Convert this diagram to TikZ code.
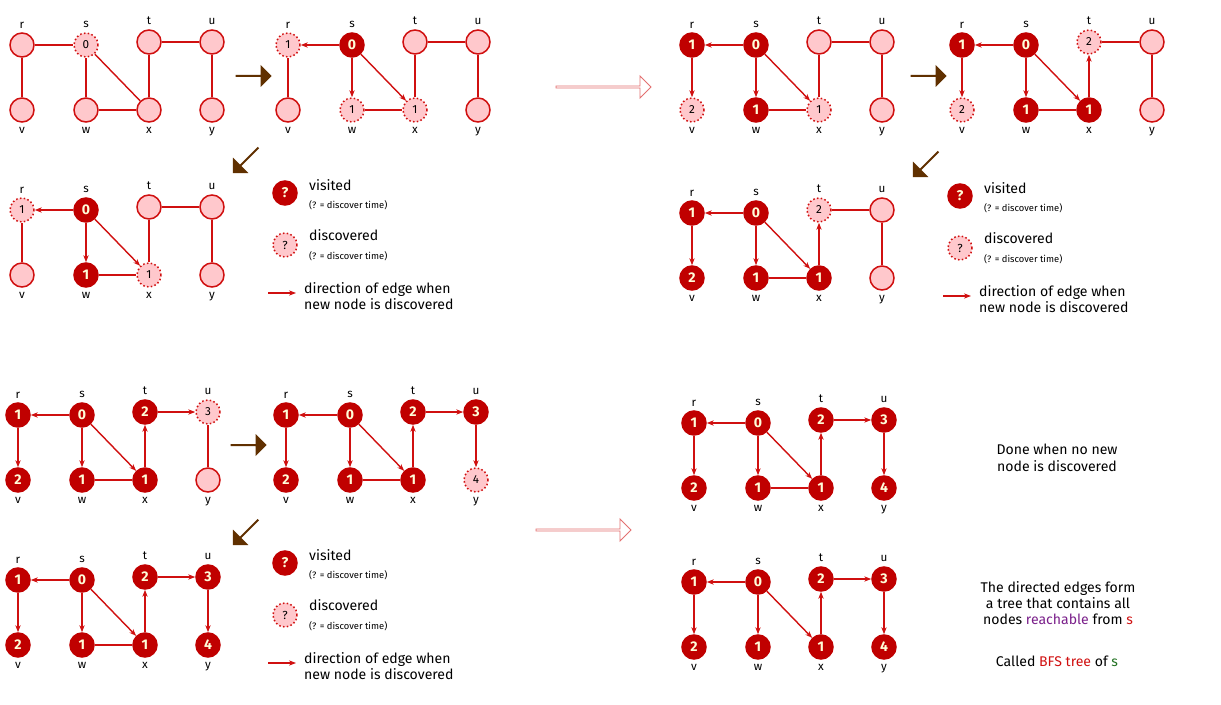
\documentclass[tikz,border=0pt]{standalone}
\usepackage{fontspec}
\setmainfont{Fira Sans}
\usetikzlibrary{shapes.arrows,arrows.meta}
\definecolor{rd}{HTML}{D01010}
\definecolor{dk}{HTML}{C00000}
\definecolor{pk}{HTML}{FFC8CC}
\definecolor{br}{HTML}{603000}
\definecolor{pu}{HTML}{7A1F8A}
\definecolor{gr}{HTML}{207020}
\tikzset{
 base/.style={circle,minimum size=24*0.03cm,inner sep=0pt,font=\normalsize,label distance=-1pt},
 un/.style={base,draw=rd,fill=pk,line width=1.3pt,node contents={}},
 di/.style={base,draw=rd,fill=pk,line width=1.3pt,dotted,node contents={#1}},
 vi/.style={base,draw=dk,fill=dk,text=yellow!15,line width=1.3pt,font=\large\bfseries,node contents={#1}},
 pl/.style={draw=rd,line width=1.2pt},
 fw/.style={pl,-{Stealth[length=6pt]}},
 bw/.style={pl,{Stealth[length=6pt]}-},
 no/.style={draw=none},
 blk/.style={single arrow,fill=br,minimum height=36*0.03cm,minimum width=22*0.03cm,single arrow head extend=2pt,inner sep=0pt},
 pka/.style={single arrow,draw=rd!60,fill=white,line width=0.8pt,minimum height=95*0.03cm,minimum width=22*0.03cm,single arrow head extend=4pt,inner sep=0pt},
 txt/.style={font=\large,align=left,anchor=west},
 sm/.style={font=\footnotesize,anchor=west}
}
\newcommand\G[9]{%
 \node (#1r) [at={(22,45)},label={above:r},#2];
 \node (#1s) [at={(86,45)},label={above:s},#3];
 \node (#1t) [at={(149,42)},label={above:t},#4];
 \node (#1u) [at={(212,42)},label={above:u},#5];
 \node (#1v) [at={(22,110)},label={below:v},#6];
 \node (#1w) [at={(86,110)},label={below:w},#7];
 \node (#1x) [at={(149,110)},label={below:x},#8];
 \node (#1y) [at={(212,110)},label={below:y},#9];}
\newcommand\E[9]{%
 \draw[#2] (#1r)--(#1s); \draw[#3] (#1r)--(#1v); \draw[#4] (#1s)--(#1w);
 \draw[#5] (#1s)--(#1x); \draw[#6] (#1w)--(#1x); \draw[#7] (#1t)--(#1x);
 \draw[#8] (#1t)--(#1u); \draw[#9] (#1u)--(#1y);}
\newcommand\Leg[3]{%
 \begin{scope}[shift={(#1,#2)}]
 \node (#3L1) [at={(285,193)},vi=?];
 \node[txt] (#3T1) at (305,185) {visited};
 \node[sm] (#3S1) at (305,205) {(? = discover time)};
 \node (#3L2) [at={(285,245)},di=?];
 \node[txt] (#3T2) at (305,235) {discovered};
 \node[sm] (#3S2) at (305,256) {(? = discover time)};
 \coordinate (#3A1) at (268,293); \coordinate (#3A2) at (296,293);
 \draw[fw] (#3A1)--(#3A2);
 \node[txt,align=left] (#3T3) at (300,296) {direction of edge when\\new node is discovered};
 \end{scope}}
\begin{document}
\begin{tikzpicture}[x=0.03cm,y=-0.03cm]
\useasboundingbox (0,0) rectangle (1221,705);
\begin{scope}[shift={(0,0)}]
\G{A}{un}{di=0}{un}{un}{un}{un}{un}{un}\E{A}{pl}{pl}{pl}{pl}{pl}{pl}{pl}{pl}\end{scope}
\begin{scope}[shift={(266,0)}]
\G{B}{di=1}{vi=0}{un}{un}{un}{di=1}{di=1}{un}\E{B}{bw}{pl}{fw}{fw}{pl}{pl}{pl}{pl}\end{scope}
\begin{scope}[shift={(0,165)}]
\G{C}{di=1}{vi=0}{un}{un}{un}{vi=1}{di=1}{un}\E{C}{bw}{pl}{fw}{fw}{pl}{pl}{pl}{pl}\end{scope}
\begin{scope}[shift={(670,0)}]
\G{D}{vi=1}{vi=0}{un}{un}{di=2}{vi=1}{di=1}{un}\E{D}{bw}{fw}{fw}{fw}{pl}{pl}{pl}{pl}\end{scope}
\begin{scope}[shift={(940,0)}]
\G{E}{vi=1}{vi=0}{di=2}{un}{di=2}{vi=1}{vi=1}{un}\E{E}{bw}{fw}{fw}{fw}{pl}{bw}{pl}{pl}\end{scope}
\begin{scope}[shift={(670,168)}]
\G{F}{vi=1}{vi=0}{di=2}{un}{vi=2}{vi=1}{vi=1}{un}\E{F}{bw}{fw}{fw}{fw}{pl}{bw}{pl}{pl}\end{scope}
\begin{scope}[shift={(-4,370)}]
\G{G}{vi=1}{vi=0}{vi=2}{di=3}{vi=2}{vi=1}{vi=1}{un}\E{G}{bw}{fw}{fw}{fw}{pl}{bw}{fw}{pl}\end{scope}
\begin{scope}[shift={(264,370)}]
\G{H}{vi=1}{vi=0}{vi=2}{vi=3}{vi=2}{vi=1}{vi=1}{di=4}\E{H}{bw}{fw}{fw}{fw}{pl}{bw}{fw}{fw}\end{scope}
\begin{scope}[shift={(-4,535)}]
\G{I}{vi=1}{vi=0}{vi=2}{vi=3}{vi=2}{vi=1}{vi=1}{vi=4}\E{I}{bw}{fw}{fw}{fw}{pl}{bw}{fw}{fw}\end{scope}
\begin{scope}[shift={(672,378)}]
\G{J}{vi=1}{vi=0}{vi=2}{vi=3}{vi=2}{vi=1}{vi=1}{vi=4}\E{J}{bw}{fw}{fw}{fw}{pl}{bw}{fw}{fw}\end{scope}
\begin{scope}[shift={(672,537)}]
\G{K}{vi=1}{vi=0}{vi=2}{vi=3}{vi=2}{vi=1}{vi=1}{vi=4}\E{K}{bw}{fw}{fw}{fw}{no}{bw}{fw}{fw}\end{scope}
% legends
\Leg{0}{0}{LA}
\Leg{675}{3}{LB}
\Leg{0}{370}{LC}
% block arrows
\node[blk] (b1) at (253,76) {};
\node[blk,rotate=-135] (b2) at (246,160) {};
\node[blk] (b3) at (928,76) {};
\node[blk,rotate=-135] (b4) at (926,164) {};
\node[blk] (b5) at (248,445) {};
\node[blk,rotate=-135] (b6) at (246,532) {};
\node[pka] (p1) at (603,87) {};
\node[pka] (p2) at (583,530) {};
% texts
\node[font=\large,align=center] (t1) at (1057,458) {Done when no new\\node is discovered};
\node[font=\large,align=center] (t2) at (1058,603) {The directed edges form\\a tree that contains all\\nodes \textcolor{pu}{reachable} from \textcolor{rd}{s}};
\node[font=\large] (t3) at (1057,661) {Called \textcolor{rd}{BFS tree} of \textcolor{gr}{s}};
\end{tikzpicture}
\end{document}
